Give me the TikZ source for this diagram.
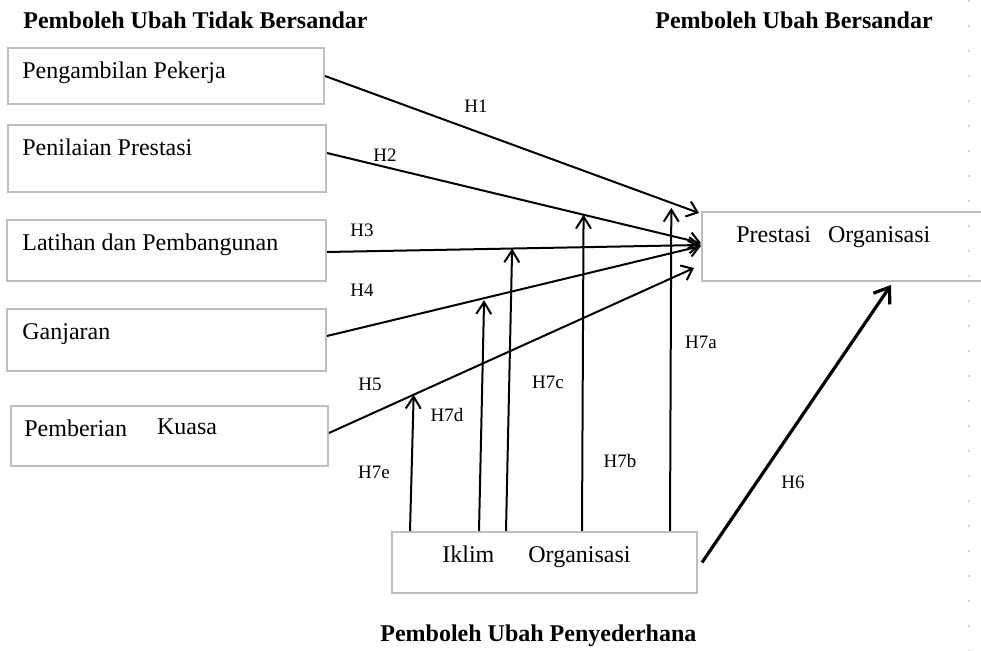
\documentclass[tikz,border=0pt]{standalone}
\usepackage{fontspec}
\setmainfont{Liberation Serif}
\usetikzlibrary{arrows.meta}
\definecolor{boxgray}{RGB}{191,191,191}
\definecolor{guidegray}{RGB}{215,215,215}
\begin{document}
\begin{tikzpicture}[x=0.5pt,y=-0.5pt,
  box/.style={draw=boxgray, line width=1pt, inner sep=0pt},
  txt/.style={inner sep=0pt, anchor=base west, font=\fontsize{12}{14}\selectfont},
  heading/.style={inner sep=0pt, anchor=base west, font=\bfseries\fontsize{12}{14}\selectfont},
  hlab/.style={inner sep=0pt, font=\fontsize{9.5}{11}\selectfont},
  link/.style={line width=1pt, -{Straight Barb[length=5pt,width=8pt,line width=1pt]}},
  moder/.style={line width=1pt, -{Straight Barb[length=6pt,width=7.5pt,line width=1pt]}},
  direct/.style={line width=1.6pt, -{Straight Barb[length=7pt,width=10pt,line width=1.6pt]}}]
\useasboundingbox (0,0) rectangle (981,651);

% faint guide on the right
\draw[guidegray, line width=1pt, dash pattern=on 1pt off 11.5pt] (969,0) -- (969,651);

% headings
\node[heading] (hIV) at (23,29) {Pemboleh Ubah Tidak Bersandar};
\node[heading] (hDV) at (655,29) {Pemboleh Ubah Bersandar};
\node[heading] (hMV) at (380,642) {Pemboleh Ubah Penyederhana};

% independent variables
\node[box, minimum width=158pt, minimum height=28pt] (b1) at (166,76) {};
\node[box, minimum width=159pt, minimum height=33.5pt] (b2) at (167,158.5) {};
\node[box, minimum width=159.5pt, minimum height=30.5pt] (b3) at (166.5,250.5) {};
\node[box, minimum width=159.5pt, minimum height=31pt] (b4) at (166.5,340) {};
\node[box, minimum width=158.5pt, minimum height=30pt] (b5) at (169.5,436) {};
\node[txt] (t1) at (22,79) {Pengambilan Pekerja};
\node[txt] (t2) at (22,156) {Penilaian Prestasi};
\node[txt] (t3) at (22,251) {Latihan dan Pembangunan};
\node[txt] (t4) at (22,340) {Ganjaran};
\node[txt] (t5) at (24,437) {Pemberian\hspace{15pt}\raisebox{1pt}{Kuasa}};

% dependent variable
\node[box, minimum width=149pt, minimum height=34.5pt] (po) at (851,246.5) {};
\node[txt] (tpo) at (736,243) {Prestasi\hspace{8.5pt}Organisasi};

% moderator
\node[box, minimum width=152.5pt, minimum height=30.5pt] (io) at (544.5,562.5) {};
\node[txt] (tio) at (442,563) {Iklim\hspace{17pt}Organisasi};

% H1 - H5
\draw[link] (b1.east) -- coordinate[pos=0.926] (m1) ([xshift=-1pt,yshift=16.75pt]po.west);
\draw[link] ([yshift=2.75pt]b2.east) -- coordinate[pos=0.686] (m2) ([yshift=1.75pt]po.west);
\draw[link] ([yshift=-0.75pt]b3.east) -- coordinate[pos=0.495] (m3) ([yshift=0.75pt]po.west);
\draw[link] ([yshift=2pt]b4.east) -- coordinate[pos=0.42] (m4) ([yshift=0.25pt]po.west);
\draw[link] ([yshift=1.5pt]b5.east) -- coordinate[pos=0.232] (m5) ([xshift=-3.5pt,yshift=-10.75pt]po.west);

% H6
\draw[direct] ([xshift=2pt]io.east) -- ([xshift=95pt,yshift=-1.5pt]po.south west);

% H7a - H7e
\draw[moder] ([xshift=139.5pt]io.north west) -- ([yshift=-2.5pt]m1);
\draw[moder] ([xshift=95.5pt]io.north west) -- (m2);
\draw[moder] ([xshift=57.5pt]io.north west) -- (m3);
\draw[moder] ([xshift=44pt]io.north west) -- ([yshift=-1pt]m4);
\draw[moder] ([xshift=9.5pt]io.north west) -- (m5);

% hypothesis labels
\node[hlab] (l1) at (476,106) {H1};
\node[hlab] (l2) at (385,155) {H2};
\node[hlab] (l3) at (362,230) {H3};
\node[hlab] (l4) at (362,290) {H4};
\node[hlab] (l5) at (370,384) {H5};
\node[hlab] (l6) at (793,482) {H6};
\node[hlab] (l7a) at (701,342) {H7a};
\node[hlab] (l7b) at (620,461) {H7b};
\node[hlab] (l7c) at (548,382) {H7c};
\node[hlab] (l7d) at (447,415) {H7d};
\node[hlab] (l7e) at (374,472) {H7e};
\end{tikzpicture}
\end{document}
